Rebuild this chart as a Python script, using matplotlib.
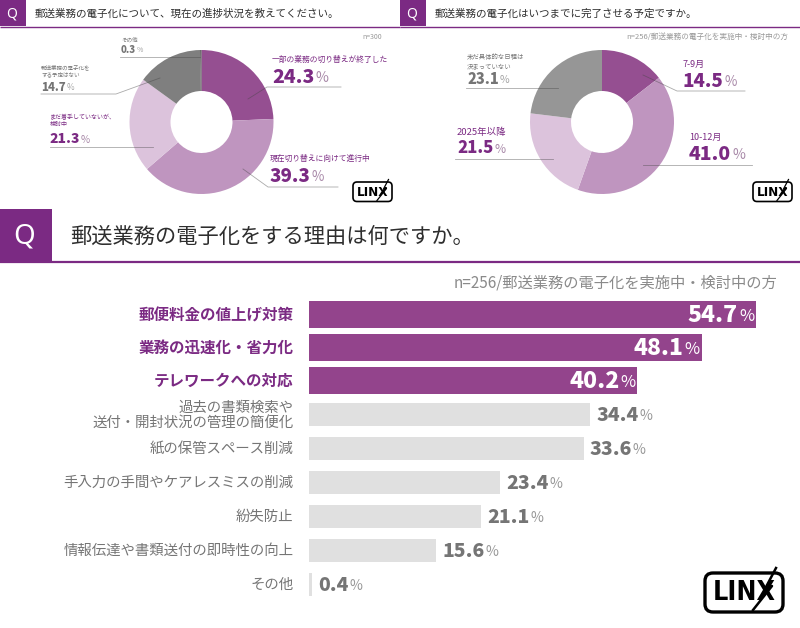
import matplotlib
matplotlib.use("Agg")
import matplotlib.pyplot as plt
from matplotlib.patches import Rectangle, FancyBboxPatch

plt.rcParams['font.family'] = ['Noto Sans CJK JP', 'DejaVu Sans']

# datos
titulo_1 = "郵送業務の電子化について、現在の進捗状況を教えてください。"
titulo_2 = "郵送業務の電子化はいつまでに完了させる予定ですか。"
titulo_3 = "郵送業務の電子化をする理由は何ですか。"
nota_1 = "n=300"
nota_2 = "n=256/郵送業務の電子化を実施中・検討中の方"

etiquetas_1 = ["一部の業務の切り替えが終了した", "現在切り替えに向けて進行中", "まだ着手していないが、\n検討中",
               "郵送業務の電子化を\nする予定はない", "その他"]
valores_1 = [24.3, 39.3, 21.3, 14.7, 0.3]

etiquetas_2 = ["7-9月", "10-12月", "2025年以降", "未だ具体的な日程は\n決まっていない"]
valores_2 = [14.5, 41.0, 21.5, 23.1]

etiquetas_3 = ["郵便料金の値上げ対策", "業務の迅速化・省力化", "テレワークへの対応",
               "過去の書類検索や\n送付・開封状況の管理の簡便化", "紙の保管スペース削減",
               "手入力の手間やケアレスミスの削減", "紛失防止", "情報伝達や書類送付の即時性の向上", "その他"]
valores_3 = [54.7, 48.1, 40.2, 34.4, 33.6, 23.4, 21.1, 15.6, 0.4]

MORADO = "#7b2a83"
BARRA = "#93448c"
GRIS_TXT = "#757575"
GRIS_BARRA = "#e0e0e0"
PCT_MORADO = "#a98aa9"
PCT_GRIS = "#a5a5a5"
W, H = 800, 628

fig = plt.figure(figsize=(8, 6.28), dpi=100)

# capa en pixeles para encabezados y textos
capa = fig.add_axes([0, 0, 1, 1], zorder=5)
capa.set_xlim(0, W)
capa.set_ylim(H, 0)
capa.axis("off")
capa.patch.set_alpha(0)


def eje_px(x0, y0, x1, y1):
    return fig.add_axes([x0 / W, 1 - y1 / H, (x1 - x0) / W, (y1 - y0) / H])


def texto(x, y, s, tam, color, **kw):
    # la fuente CJK queda un poco alta con va=center, se corrige segun el tamaño
    kw.setdefault("ha", "left")
    return capa.text(x, y + tam * 0.2, s, fontsize=tam, color=color, va="center", **kw)


def linea(xs, ys):
    capa.plot(xs, ys, color="#444444", alpha=0.45, lw=0.6)


def encabezado(x, y, lado, ancho, titulo, tam_q, tam_t, grosor):
    capa.add_patch(Rectangle((x, y), lado, lado, color=MORADO, lw=0))
    capa.text(x + lado / 2 - lado * 0.04, y + lado / 2 + tam_q * 0.08, "Q", color="white", fontsize=tam_q,
              ha="center", va="center", family="Noto Sans")
    capa.plot([x, x + ancho], [y + lado + 0.5] * 2, color=MORADO, lw=grosor, solid_capstyle="butt")
    texto(x + lado + lado * 0.34, y + lado / 2 - tam_t * 0.1, titulo, tam_t, "#2e2e2e")


def numero(x, y, valor, tam, color, color_pct):
    t = capa.text(x, y + tam * 0.12, f"{valor:.1f}", fontsize=tam, fontweight=900, color=color, ha="left", va="center")
    caja = t.get_window_extent(fig.canvas.get_renderer())
    capa.text(x + caja.width + 1, y + tam * 0.17, "%", fontsize=tam * 0.72, color=color_pct, ha="left", va="center")


def dona(cx, cy, valores, colores):
    r = 72
    ax = eje_px(cx - r, cy - r, cx + r, cy + r)
    ax.pie(valores, colors=colores, startangle=90, counterclock=False, radius=1,
           wedgeprops=dict(width=41 / 72, linewidth=0))
    ax.set_xlim(-1, 1)
    ax.set_ylim(-1, 1)


def logo(x, y, esc):
    capa.add_patch(FancyBboxPatch((x + 4 * esc, y + 4 * esc), 31 * esc, 11.5 * esc,
                                  boxstyle=f"round,pad={4 * esc},rounding_size={4 * esc}",
                                  fc="white", ec="black", lw=1.2 * esc))
    capa.text(x + 19.5 * esc, y + 10 * esc, "LINX", fontsize=9.6 * esc, fontweight="bold", color="black",
              ha="center", va="center", family="DejaVu Sans", fontstretch="condensed")
    capa.plot([x + 35.5 * esc, x + 30.5 * esc, x + 33.5 * esc, x + 24 * esc],
              [y - 2.5 * esc, y + 7 * esc, y + 6.5 * esc, y + 18.5 * esc], color="black", lw=0.9 * esc)


# encabezados
encabezado(0, 0, 26, 400, titulo_1, 10, 7.6, 1)
encabezado(400, 0, 26, 400, titulo_2, 10, 7.6, 1)
encabezado(0, 209, 52, 800, titulo_3, 20, 15.3, 1.6)
texto(382, 36, nota_1, 5, "#999999", ha="right")
texto(788, 36, nota_2, 5.5, "#999999", ha="right")
texto(777, 281, nota_2, 11, "#8a8a8a", ha="right")

# donas
dona(201.5, 122, valores_1, ["#954f91", "#bf95bf", "#dcc3dc", "#7f7f7f", "#555555"])
dona(602, 122, valores_2, ["#954f91", "#bf95bf", "#dcc3dc", "#969696"])

# rotulos de la dona 1
texto(272, 59, etiquetas_1[0], 5.6, MORADO)
numero(272, 76, valores_1[0], 14, MORADO, PCT_MORADO)
linea([248, 267, 341], [99, 87, 87])
texto(270, 158, etiquetas_1[1], 5.6, MORADO)
numero(270, 175, valores_1[1], 13.5, MORADO, PCT_MORADO)
linea([243, 268, 338], [169, 187, 187])
texto(50, 119.5, etiquetas_1[2], 4.3, MORADO, linespacing=1.4)
numero(49, 138, valores_1[2], 10, MORADO, PCT_MORADO)
linea([50, 153], [147, 147])
texto(41, 70, etiquetas_1[3], 4, GRIS_TXT, linespacing=1.4)
numero(41, 86, valores_1[3], 8.2, GRIS_TXT, PCT_GRIS)
linea([41, 116, 160], [94, 94, 78])
texto(121, 39, etiquetas_1[4], 4, GRIS_TXT)
numero(121, 49, valores_1[4], 7, GRIS_TXT, PCT_GRIS)
linea([120, 200], [57, 57])

# rotulos de la dona 2
texto(683, 63, etiquetas_2[0], 6.5, MORADO)
numero(683, 80, valores_2[0], 13.5, MORADO, PCT_MORADO)
linea([643, 677, 745], [75, 91, 91])
texto(689, 136, etiquetas_2[1], 6.5, MORADO)
numero(689, 153, valores_2[1], 14, MORADO, PCT_MORADO)
linea([643, 752], [165, 165])
texto(457, 131, etiquetas_2[2], 6.8, MORADO)
numero(457, 147, valores_2[2], 12, MORADO, PCT_MORADO)
linea([455, 553], [159, 159])
texto(467, 60.5, etiquetas_2[3], 4.6, GRIS_TXT, linespacing=1.3)
numero(467, 78, valores_2[3], 10.5, GRIS_TXT, PCT_GRIS)
linea([466, 558], [88, 88])

# barras
centros = [314, 347, 380, 414, 448, 482, 516, 550, 584]
ax_b = eje_px(309, 290, 800, 600)
ax_b.set_xlim(0, 491 / 8.17)
ax_b.set_ylim(600, 290)
ax_b.axis("off")
for i, (c, v, et) in enumerate(zip(centros, valores_3, etiquetas_3)):
    top = i < 3
    ax_b.barh(c, v, height=27 if top else 23, color=BARRA if top else GRIS_BARRA, linewidth=0)
    fin = 309 + v * 8.17
    texto(293.5, c - 1, et, 11.2 if top else 10.4, MORADO if top else GRIS_TXT, ha="right",
          fontweight="bold" if top else "normal", linespacing=1.1)
    if top:
        numero(fin - 68, c, v, 16.5, "white", "white")
    else:
        numero(fin + 6, c, v, 14, GRIS_TXT, "#999999")

# logos
logo(353, 182, 1)
logo(753, 182, 1)
logo(705, 573, 2)

fig.savefig("out.png", dpi=100)
